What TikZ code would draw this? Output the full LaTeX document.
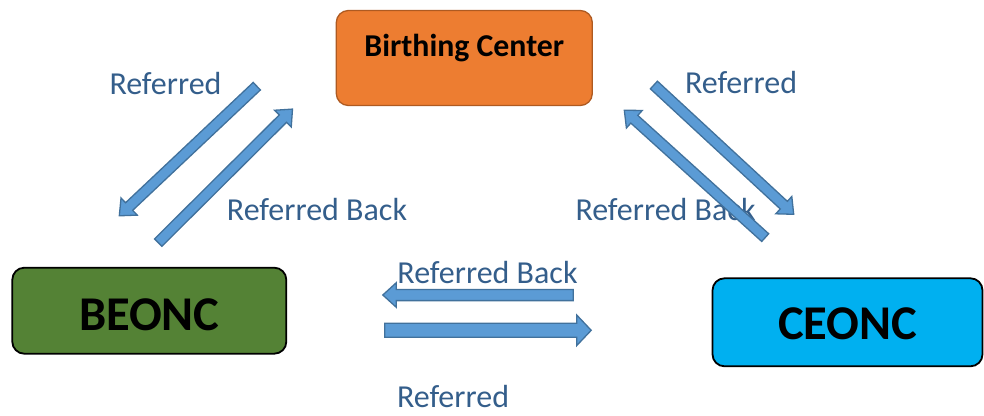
\documentclass[tikz,border=0pt]{standalone}
\usepackage{fontspec}
\setmainfont{Carlito}
\usetikzlibrary{calc}
\definecolor{lbl}{HTML}{345E8B}
\definecolor{arrfill}{HTML}{5B9BD5}
\definecolor{arrdraw}{HTML}{41719C}
\definecolor{orfill}{HTML}{ED7D31}
\definecolor{ordraw}{HTML}{AE5A21}
\definecolor{grfill}{HTML}{548235}
\definecolor{blfill}{HTML}{00B0F0}
\newcommand{\blockarr}[5]{%
  \path (#2) coordinate (tp) ($(#2)!#5!(#1)$) coordinate (hb);
  \draw[arrstyle] ($(#1)!#3!90:(#2)$) -- ($(hb)!#3!90:(tp)$) -- ($(hb)!#4!90:(tp)$)
    -- (tp) -- ($(hb)!#4!-90:(tp)$) -- ($(hb)!#3!-90:(tp)$) -- ($(#1)!#3!-90:(#2)$) -- cycle;
}
\begin{document}
\begin{tikzpicture}[x=1pt,y=-1pt,
  arrstyle/.style={fill=arrfill,draw=arrdraw,line width=1.3pt,line join=miter},
  boxstyle/.style={rounded corners=12pt,inner sep=0pt,align=center,font=\fontsize{48.5}{52}\selectfont\bfseries},
  lab/.style={text=lbl,font=\fontsize{32}{35}\selectfont,anchor=base,inner sep=0pt}]
\useasboundingbox (0,0) rectangle (984,415);
% boxes
\node[boxstyle,fill=orfill,draw=ordraw,line width=1.3pt,minimum width=256pt,minimum height=95pt,
  text height=20pt,text depth=24pt,font=\fontsize{31.8}{34}\selectfont\bfseries] (bc) at (464.3,58) {Birthing Center};
\node[boxstyle,fill=grfill,draw=black,line width=1.8pt,minimum width=274pt,minimum height=86pt,
  text height=40pt,text depth=1.4pt] (beonc) at (149.3,310.7) {BEONC};
\node[boxstyle,fill=blfill,draw=black,line width=1.8pt,minimum width=270pt,minimum height=88pt,
  text height=35pt,text depth=1.6pt] (ceonc) at (847.5,322.3) {CEONC};
% labels
\node[lab] (l1) at (165.5,94) {Referred};
\node[lab] (l2) at (317,220.7) {Referred Back};
\node[lab] (l3) at (741,93.3) {Referred};
\node[lab] (l4) at (665.5,220.7) {Referred Back};
\node[lab] (l5) at (487.5,283.3) {Referred Back};
\node[lab] (l6) at (453,407.5) {Referred};
% arrow end points
\coordinate (a1t) at (256.8,86.2); \coordinate (a1h) at (119.3,215.8);
\coordinate (a2t) at (158.2,242.6); \coordinate (a2h) at (292.5,109.1);
\coordinate (a3t) at (653.9,85); \coordinate (a3h) at (793.7,214.3);
\coordinate (a4t) at (765.2,237.6); \coordinate (a4h) at (624.3,110.2);
\coordinate (a5t) at (573.3,295); \coordinate (a5h) at (382.8,295);
\coordinate (a6t) at (384.7,330.3); \coordinate (a6h) at (591.2,330.3);
\blockarr{a1t}{a1h}{5.2pt}{11.8pt}{13.5pt}
\blockarr{a2t}{a2h}{5.2pt}{11.8pt}{13.5pt}
\blockarr{a3t}{a3h}{5.2pt}{11.8pt}{13.5pt}
\blockarr{a4t}{a4h}{5.2pt}{11.8pt}{13.5pt}
\blockarr{a5t}{a5h}{5.6pt}{12.3pt}{13.5pt}
\blockarr{a6t}{a6h}{7pt}{15.3pt}{14.5pt}
\end{tikzpicture}
\end{document}
